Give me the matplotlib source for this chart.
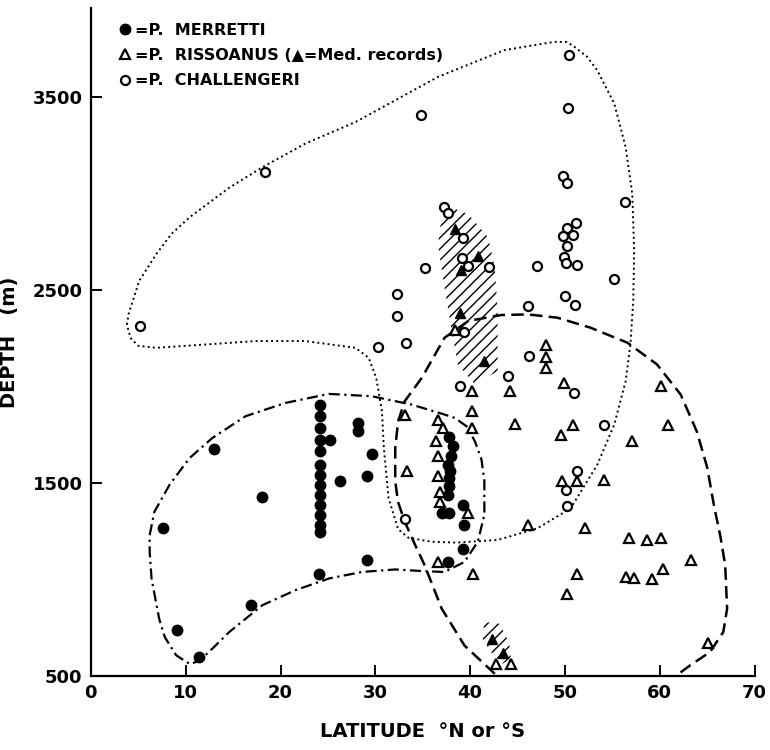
""" Depth vs latitude of three Pheronema species """

import numpy as np
import matplotlib.pyplot as plt
from matplotlib.lines import Line2D

# P. merretti (filled circles)
merretti_lat = [13.0, 18.0, 7.6, 9.1, 11.4, 16.9, 24.1, 29.1, 26.3, 29.1, 29.7, 28.2, 28.2, 25.2,
                24.2, 24.2, 24.2, 24.2, 24.2, 24.2, 24.2, 24.2, 24.2, 24.2, 24.2, 24.2, 24.2,
                37.8, 38.2, 38.0, 37.7, 37.9, 37.8, 37.8, 37.7, 37.0, 37.8, 39.2, 39.4, 39.2, 37.7]
merretti_depth = [1675, 1429, 1264, 736, 597, 869, 1030, 1100, 1510, 1533, 1649, 1810, 1768, 1724,
                  1902, 1845, 1784, 1724, 1663, 1594, 1542, 1490, 1438, 1386, 1334, 1282, 1247,
                  1740, 1690, 1640, 1594, 1560, 1524, 1481, 1438, 1346, 1346, 1386, 1282, 1155, 1092]

# P. rissoanus (open triangles)
rissoanus_lat = [33.1, 36.6, 37.1, 36.4, 36.6, 36.6, 36.8, 36.8, 39.8, 33.3, 36.6, 40.3, 40.2,
                 40.2, 40.2, 48.0, 48.0, 48.0, 44.2, 49.9, 60.1, 44.7, 50.8, 49.6, 60.9, 57.1,
                 49.7, 51.3, 54.1, 46.1, 52.1, 56.8, 58.7, 60.1, 63.3, 51.3, 50.2, 56.4, 57.3,
                 59.2, 60.3, 65.1, 42.7, 44.3, 38.4]
rissoanus_depth = [1853, 1828, 1784, 1715, 1637, 1533, 1454, 1402, 1342, 1560, 1090, 1030, 1974,
                   1874, 1784, 2214, 2152, 2093, 1975, 2018, 2001, 1805, 1798, 1750, 1798, 1719,
                   1510, 1510, 1515, 1282, 1264, 1212, 1206, 1214, 1100, 1025, 926, 1012, 1006,
                   1001, 1051, 672, 562, 562, 2290]

# P. rissoanus, Mediterranean records (filled triangles)
med_lat = [38.4, 40.8, 39.0, 38.9, 41.5, 42.3, 43.5]
med_depth = [2816, 2676, 2605, 2382, 2131, 692, 620]

# P. challengeri (open circles)
challengeri_lat = [50.4, 50.3, 49.8, 50.2, 56.3, 51.2, 50.2, 50.8, 49.8, 50.2, 49.9, 50.1, 51.3,
                   47.1, 55.2, 50.0, 51.1, 46.1, 37.2, 37.7, 39.2, 39.1, 39.8, 42.0, 34.8, 18.4,
                   5.2, 35.2, 32.3, 32.3, 33.2, 30.3, 39.4, 38.9, 44.0, 46.2, 51.0, 54.1, 51.3,
                   50.1, 50.2, 33.1]
challengeri_depth = [3716, 3444, 3090, 3053, 2954, 2845, 2819, 2786, 2777, 2729, 2672, 2642, 2628,
                     2625, 2559, 2466, 2422, 2417, 2932, 2897, 2769, 2668, 2625, 2620, 3405, 3110,
                     2313, 2616, 2481, 2365, 2226, 2204, 2284, 2001, 2053, 2155, 1966, 1802, 1561,
                     1464, 1378, 1310]

# envelopes drawn by hand on the original
chall_env_lat = [3.8, 4.0, 4.3, 5.1, 6.9, 8.5, 10.4, 14.6, 18.1, 22.6, 27.9, 36.6, 43.6, 48.9,
                 50.2, 51.0, 52.3, 53.4, 55.2, 56.4, 57.1, 57.3, 57.2, 56.9, 56.4, 55.2, 53.4,
                 50.6, 47.1, 42.9, 38.5, 35.9, 33.5, 32.4, 31.4, 30.9, 30.7, 30.1, 29.3, 27.9,
                 22.6, 17.4, 12.1, 6.9, 5.0, 4.2, 3.8]
chall_env_depth = [2320, 2380, 2425, 2547, 2686, 2790, 2876, 3030, 3136, 3258, 3370, 3604, 3743,
                   3786, 3785, 3760, 3710, 3639, 3466, 3240, 2997, 2700, 2440, 2217, 2027, 1802,
                   1593, 1368, 1264, 1204, 1190, 1195, 1215, 1260, 1420, 1680, 1871, 2044, 2148,
                   2200, 2235, 2235, 2217, 2200, 2210, 2250, 2320]

merr_env_lat = [6.2, 6.7, 8.3, 10.4, 12.8, 16.3, 20.5, 25.1, 29.6, 33.8, 37.3, 38.4, 39.7, 40.5,
                41.2, 41.5, 41.5, 40.8, 39.4, 37.3, 35.2, 32.1, 28.6, 25.1, 21.6, 18.1, 14.6,
                12.8, 11.4, 10.4, 9.0, 7.8, 7.2, 6.4, 6.2, 6.2]
merr_env_depth = [1229, 1350, 1490, 1628, 1732, 1845, 1914, 1961, 1949, 1906, 1854, 1836, 1790,
                  1715, 1620, 1508, 1334, 1194, 1090, 1038, 1042, 1051, 1038, 1004, 944, 866, 727,
                  640, 575, 562, 606, 700, 796, 1004, 1143, 1229]

riss_env_lat = [42.6, 39.4, 37.0, 35.2, 34.2, 33.1, 32.4, 32.1, 32.1, 32.4, 33.1, 34.9, 37.3,
                39.8, 43.3, 46.1, 49.2, 52.7, 56.6, 59.7, 62.2, 63.9, 65.0, 65.7, 66.4, 66.9,
                67.1, 66.7, 65.3, 63.2, 62.0]
riss_env_depth = [510, 657, 848, 1073, 1178, 1299, 1400, 1508, 1680, 1819, 1923, 2044, 2252,
                  2339, 2370, 2373, 2356, 2304, 2226, 2114, 1958, 1767, 1580, 1386, 1220, 1073,
                  848, 727, 623, 554, 510]

# hatched Mediterranean areas
med_area1_lat = [38.0, 39.8, 41.9, 42.6, 42.9, 42.9, 40.5, 38.7, 38.0, 37.3, 36.6, 37.0]
med_area1_depth = [2928, 2893, 2772, 2616, 2391, 2079, 2010, 2114, 2304, 2512, 2736, 2876]
med_area2_lat = [41.5, 43.1, 44.1, 44.3, 43.4, 42.2, 41.3]
med_area2_depth = [779, 770, 675, 588, 562, 623, 692]

plt.rcParams['font.family'] = ['DejaVu Sans']
plt.rcParams['hatch.linewidth'] = 1.0

fig = plt.figure(figsize=(7.7, 7.5), dpi=100)
ax = fig.add_axes([0.118, 0.099, 0.862, 0.890])

ax.fill(med_area1_lat, med_area1_depth, facecolor='none', edgecolor='black',
        hatch='///', linewidth=0, zorder=1)
ax.fill(med_area2_lat, med_area2_depth, facecolor='none', edgecolor='black',
        hatch='///', linewidth=0, zorder=1)

ax.plot(chall_env_lat, chall_env_depth, color='black', ls=':', lw=1.4, zorder=2)
ax.plot(merr_env_lat, merr_env_depth, color='black', lw=1.6, dashes=(5, 2, 1, 2), zorder=2)
ax.plot(riss_env_lat, riss_env_depth, color='black', lw=1.8, dashes=(5, 2.5), zorder=2)

ax.plot(challengeri_lat, challengeri_depth, 'o', ms=6.5, mfc='white', mec='black', mew=1.6,
        ls='none', zorder=3)
ax.plot(merretti_lat, merretti_depth, 'o', ms=7.5, mfc='black', mec='black', ls='none', zorder=4)
ax.plot(rissoanus_lat, rissoanus_depth, '^', ms=7.5, mfc='white', mec='black', mew=1.6,
        ls='none', zorder=5)
ax.plot(med_lat, med_depth, '^', ms=7.5, mfc='black', mec='black', ls='none', zorder=5)

handles = [Line2D([], [], marker='o', ls='none', ms=7.5, mfc='black', mec='black'),
           Line2D([], [], marker='^', ls='none', ms=7.5, mfc='white', mec='black', mew=1.6),
           Line2D([], [], marker='o', ls='none', ms=6.5, mfc='white', mec='black', mew=1.6)]
labels = ["=P.  MERRETTI", "=P.  RISSOANUS (\u25B2=Med. records)", "=P.  CHALLENGERI"]
ax.legend(handles, labels, loc='upper left', bbox_to_anchor=(0.02, 1.0), frameon=False,
          handlelength=0.8, handletextpad=0.25, labelspacing=0.65,
          prop={'size': 11.5, 'weight': 'bold'})

ax.set_xlim(0, 70)
ax.set_ylim(500, 3960)
ax.set_xticks(np.arange(0, 71, 10))
ax.set_yticks([500, 1500, 2500, 3500])
ax.spines['top'].set_visible(False)
ax.spines['right'].set_visible(False)
ax.spines['left'].set_linewidth(1.6)
ax.spines['bottom'].set_linewidth(1.6)
ax.tick_params(direction='in', length=8, width=1.4, labelsize=13, pad=6)
for lab in ax.get_xticklabels() + ax.get_yticklabels():
    lab.set_fontweight('bold')

ax.set_xlabel("LATITUDE  \u00b0N or \u00b0S", fontsize=14, fontweight='bold', labelpad=14)
ax.set_ylabel("DEPTH   (m)", fontsize=14, fontweight='bold', labelpad=10)

plt.savefig('out.png', dpi=100)
